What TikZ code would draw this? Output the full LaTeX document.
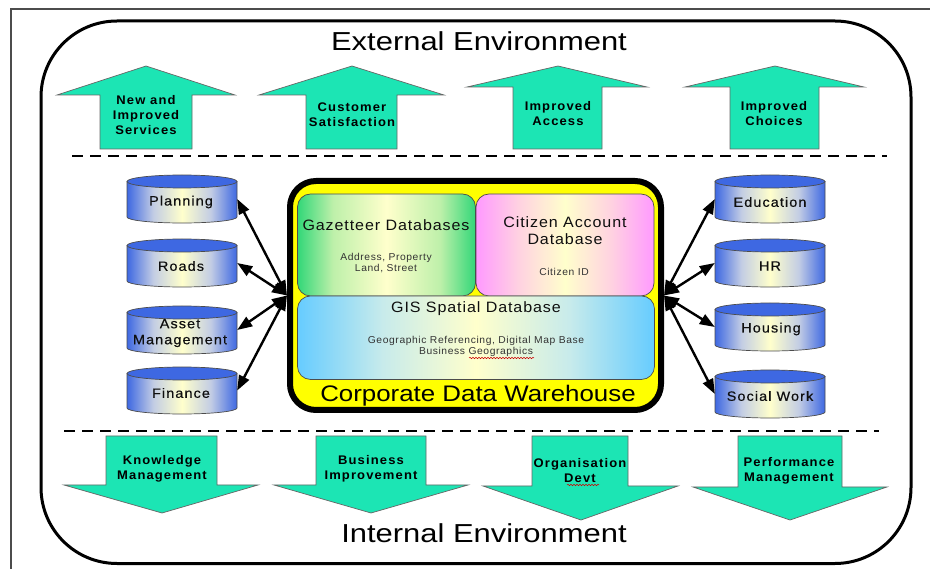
\documentclass[tikz,border=0pt]{standalone}
\usepackage{fontspec}
\setmainfont{Liberation Sans}
\newfontfamily\arrowfont[LetterSpace=9,FakeStretch=1.04]{Liberation Sans}
\newfontfamily\cylfont[LetterSpace=8,FakeStretch=1.07,FakeBold=0.3]{Liberation Sans}
\newfontfamily\headfont[LetterSpace=6,FakeStretch=1.07]{Liberation Sans}
\newfontfamily\smallfont[LetterSpace=6,FakeStretch=1.03]{Liberation Sans}
\newfontfamily\titlefont[FakeStretch=1.19]{Liberation Sans}
\newfontfamily\cdwfont[FakeStretch=1.15]{Liberation Sans}
\usetikzlibrary{arrows.meta,decorations.pathmorphing}
\definecolor{arrowgreen}{RGB}{28,229,180}
\definecolor{cylblue}{RGB}{62,104,226}
\definecolor{cylmid}{RGB}{195,205,228}
\definecolor{paleyellow}{RGB}{255,255,204}
\definecolor{gazgreen}{RGB}{50,215,120}
\definecolor{gazmid}{RGB}{190,240,170}
\definecolor{citpink}{RGB}{255,153,255}
\definecolor{citmid}{RGB}{255,210,225}
\definecolor{gisblue}{RGB}{102,204,255}
\definecolor{gismid}{RGB}{200,235,235}
\definecolor{wareyellow}{RGB}{255,255,0}
\definecolor{textblack}{RGB}{15,15,15}
\pgfdeclarehorizontalshading{cylshade}{100bp}{color(0bp)=(cylblue); color(25bp)=(cylblue); color(37bp)=(cylmid); color(50bp)=(paleyellow); color(63bp)=(cylmid); color(75bp)=(cylblue); color(100bp)=(cylblue)}
\pgfdeclarehorizontalshading{gazshade}{100bp}{color(0bp)=(gazgreen); color(25bp)=(gazgreen); color(35bp)=(gazmid); color(50bp)=(paleyellow); color(65bp)=(gazmid); color(75bp)=(gazgreen); color(100bp)=(gazgreen)}
\pgfdeclarehorizontalshading{citshade}{100bp}{color(0bp)=(citpink); color(25bp)=(citpink); color(37bp)=(citmid); color(50bp)=(paleyellow); color(63bp)=(citmid); color(75bp)=(citpink); color(100bp)=(citpink)}
\pgfdeclarehorizontalshading{gisshade}{100bp}{color(0bp)=(gisblue); color(25bp)=(gisblue); color(37bp)=(gismid); color(50bp)=(paleyellow); color(63bp)=(gismid); color(75bp)=(gisblue); color(100bp)=(gisblue)}
\tikzset{
  x=1pt,y=-1pt,
  blockarrow/.style={draw=black!60,line width=0.7pt,fill=arrowgreen},
  arrowlabel/.style={align=center,inner sep=0pt,text=black,font=\fontsize{12.5}{15}\selectfont\arrowfont\bfseries},
  cyllabel/.style={align=center,inner sep=0pt,text=textblack,font=\fontsize{13.5}{16}\selectfont\cylfont},
  cylbody/.style={draw=black!70,line width=0.7pt,shading=cylshade,shading angle=0},
  cyltop/.style={draw=black!70,line width=0.7pt,fill=cylblue},
  cylanchor/.style={inner sep=0pt,minimum width=110pt},
  dbbox/.style={draw=black!70,line width=0.7pt,rounded corners=13pt,inner sep=0pt,shading angle=0},
  headtext/.style={align=center,inner sep=0pt,text=textblack,font=\fontsize{15}{17.5}\selectfont\headfont},
  smalltext/.style={align=center,inner sep=0pt,text=black!80,font=\fontsize{10}{11.5}\selectfont\smallfont},
  envtitle/.style={inner sep=0pt,text=black,font=\fontsize{26}{30}\selectfont\titlefont},
  divider/.style={line width=1.5pt,dash pattern=on 11pt off 7pt},
  link/.style={line width=2.4pt,black,{Triangle[length=15pt,width=11pt]}-{Triangle[length=15pt,width=11pt]}},
  squiggle/.style={red!80!black,line width=0.5pt,decorate,decoration={snake,amplitude=0.7pt,segment length=3pt}}
}
% block arrow: tip x, tip y, head left, head right, head y, shaft left, shaft right, shaft end
\newcommand{\blockarrowshape}[8]{\draw[blockarrow] (#1,#2) -- (#4,#5) -- (#7,#5) -- (#7,#8) -- (#6,#8) -- (#6,#5) -- (#3,#5) -- cycle;}
% cylinder: name, left, top, bottom, label x, label y, label
\newcommand{\cylinderdb}[7]{%
  \draw[cylbody] (#2,#3+6.5) -- (#2,#4-6) arc[start angle=180,end angle=360,x radius=55pt,y radius=6pt] -- (#2+110,#3+6.5) -- cycle;
  \draw[cyltop] (#2+55,#3+6.5) ellipse[x radius=55pt,y radius=6.5pt];
  \node[cylanchor,minimum height={#4-#3}] (#1) at (#2+55,{(#3+#4)/2}) {};
  \node[cyllabel] (#1text) at (#5,#6) {#7};
}
\begin{document}
\begin{tikzpicture}
\useasboundingbox (0,0) rectangle (930,569);
\fill[white] (0,0) rectangle (930,569);

% frame and environment outline
\draw[black!70,line width=2pt] (11,569) -- (11,9) -- (930,9);
\draw[black,line width=3pt,rounded corners=76pt] (41,21) rectangle (911,563.5);

% titles
\node[envtitle] (external) at (479,41) {External Environment};
\node[envtitle] (internal) at (484,533) {Internal Environment};

% dividers
\coordinate (dt1) at (72,156); \coordinate (dt2) at (887,156);
\coordinate (db1) at (64,431); \coordinate (db2) at (879,431);
\draw[divider] (dt1) -- (dt2);
\draw[divider] (db1) -- (db2);

% up arrows
\blockarrowshape{146}{66}{57}{235}{95}{100}{192}{149}
\blockarrowshape{352}{66}{259}{444}{95}{306}{397}{149}
\blockarrowshape{558}{66}{467}{647}{87}{513}{602}{149}
\blockarrowshape{775}{66}{685}{864}{87}{730}{819}{149}
\node[arrowlabel] (a1) at (146,115) {New and\\Improved\\Services};
\node[arrowlabel] (a2) at (352,114.5) {Customer\\Satisfaction};
\node[arrowlabel] (a3) at (558,113.5) {Improved\\Access};
\node[arrowlabel] (a4) at (774,113.5) {Improved\\Choices};

% down arrows
\blockarrowshape{162}{513}{64}{258}{485}{106}{217}{436}
\blockarrowshape{371}{513}{274}{468}{485}{316}{426}{436}
\blockarrowshape{581}{520}{483}{678}{486}{532}{628}{436}
\blockarrowshape{790}{520}{693}{887}{487}{738}{842}{436}
\node[arrowlabel] (b1) at (162,468.5) {Knowledge\\Management};
\node[arrowlabel] (b2) at (371,468.5) {Business\\Improvement};
\node[arrowlabel] (b3) at (580,471) {Organisation\\Devt};
\node[arrowlabel] (b4) at (789,470.5) {Performance\\Management};
\draw[squiggle] (567,485) -- (599,485);

% warehouse
\node[draw=black,line width=6pt,fill=wareyellow,rounded corners=26pt,minimum width=371pt,minimum height=229pt,inner sep=0pt] (warehouse) at (475.5,295.5) {};

% cylinders
\cylinderdb{planning}{127}{175}{223}{181}{202}{Planning}
\cylinderdb{roads}{127}{239}{287}{181}{266}{Roads}
\cylinderdb{asset}{127}{306}{354}{180}{333}{Asset\\Management}
\cylinderdb{finance}{127}{367}{414}{181}{393}{Finance}
\cylinderdb{education}{715}{175}{223}{770}{202}{Education}
\cylinderdb{hr}{715}{239}{287}{770}{266}{HR}
\cylinderdb{housing}{715}{303}{351}{771}{329}{Housing}
\cylinderdb{social}{715}{370}{418}{770}{396}{Social Work}

% links
\foreach \n in {planning,roads,asset,finance}
  \draw[link] (warehouse.west) -- (\n.east);
\foreach \n in {education,hr,housing,social}
  \draw[link] (warehouse.east) -- (\n.west);

% databases
\node[dbbox,shading=gazshade,minimum width=178pt,minimum height=102pt] (gaz) at (386.5,245) {};
\node[dbbox,shading=citshade,minimum width=178pt,minimum height=102pt] (cit) at (565,245) {};
\node[dbbox,shading=gisshade,minimum width=357pt,minimum height=83.5pt] (gis) at (476,337.7) {};

\node[headtext] (gazt) at (386,225) {Gazetteer Databases};
\node[smalltext] (gazs) at (386,263) {Address, Property\\Land, Street};
\node[headtext] (citt) at (565,230.5) {Citizen Account\\Database};
\node[smalltext] (cits) at (564,272) {Citizen ID};
\node[headtext] (gist) at (476,309) {GIS Spatial Database};
\node[smalltext] (giss) at (476,346.5) {Geographic Referencing, Digital Map Base\\Business Geographics};
\draw[squiggle] (469,358) -- (534,358);
\node[inner sep=0pt,text=black,font=\fontsize{22.5}{26}\selectfont\cdwfont] (cdw) at (478,396) {Corporate Data Warehouse};
\end{tikzpicture}
\end{document}
